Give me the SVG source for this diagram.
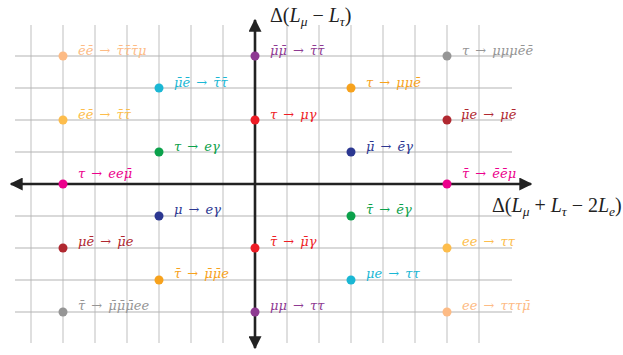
<svg xmlns="http://www.w3.org/2000/svg" width="623" height="355" viewBox="0 0 623 355">
<style>
.vg{stroke:#d2d2d2;stroke-width:1.4;fill:none}
.hg{stroke:#b4b4b4;stroke-width:1.2;fill:none}
.ax{stroke:#222;stroke-width:2.6;fill:none}
.lab{font-family:"DejaVu Serif","Liberation Serif",serif;font-style:italic;font-size:13px;word-spacing:2px}
.axl{font-family:"Liberation Serif","DejaVu Serif",serif;font-size:20px;fill:#222}
.it{font-style:italic}
.sub{font-size:13.5px;font-style:italic}
.peach{fill:#fdbb85}.purple{fill:#8e3a92}.gray{fill:#959595}.cyan{fill:#1ab7d4}
.orange{fill:#f7a21c}.yellow{fill:#fdbd4c}.red{fill:#ee1c25}.dred{fill:#b02830}
.green{fill:#0ba14b}.blue{fill:#2b3791}.mag{fill:#ec008c}
</style>
<defs>
<marker id="ah" viewBox="0 0 10 10" refX="9" refY="5" markerWidth="5" markerHeight="5" markerUnits="strokeWidth" orient="auto">
<path d="M0,0 L10,5 L0,10 Z" fill="#222"/>
</marker>
</defs>
<g id="grid">
<path class="vg" d="M31,25V343M63,25V343M95,25V343M127,25V343M159,25V343M191,25V343M223,25V343M255,25V343M287,25V343M319,25V343M351,25V343M383,25V343M415,25V343M447,25V343M479,25V343"/>
<path class="hg" d="M15,56H512M15,88H512M15,120H512M15,152H512M15,216H512M15,248H512M15,280H512M15,312H512"/>
</g>
<g id="connectors">
<line class="ax" x1="255" y1="184" x2="531" y2="184" marker-end="url(#ah)"/>
<line class="ax" x1="255" y1="184" x2="11" y2="184" marker-end="url(#ah)"/>
<line class="ax" x1="255" y1="184" x2="255" y2="20" marker-end="url(#ah)"/>
<line class="ax" x1="255" y1="184" x2="255" y2="348" marker-end="url(#ah)"/>
</g>
<g id="axis-labels">
<text class="axl" x="270" y="22">Δ(<tspan class="it">L</tspan><tspan class="sub" dy="4">μ</tspan><tspan dy="-4"> − </tspan><tspan class="it">L</tspan><tspan class="sub" dy="4">τ</tspan><tspan dy="-4">)</tspan></text>
<text class="axl" x="492" y="212">Δ(<tspan class="it">L</tspan><tspan class="sub" dy="4">μ</tspan><tspan dy="-4"> + </tspan><tspan class="it">L</tspan><tspan class="sub" dy="4">τ</tspan><tspan dy="-4"> − 2</tspan><tspan class="it">L</tspan><tspan class="sub" dy="4">e</tspan><tspan dy="-4">)</tspan></text>
</g>
<g id="n1"><circle class="peach" cx="63" cy="56" r="4.5"/><text class="lab peach" x="78" y="55">e&#x304;e&#x304; → τ&#x304;τ&#x304;τ&#x304;μ</text></g>
<g id="n2"><circle class="purple" cx="255" cy="56" r="4.5"/><text class="lab purple" x="270" y="55">μ&#x304;μ&#x304; → τ&#x304;τ&#x304;</text></g>
<g id="n3"><circle class="gray" cx="447" cy="56" r="4.5"/><text class="lab gray" x="462" y="55">τ → μμμe&#x304;e&#x304;</text></g>
<g id="n4"><circle class="cyan" cx="159" cy="88" r="4.5"/><text class="lab cyan" x="174" y="87">μ&#x304;e&#x304; → τ&#x304;τ&#x304;</text></g>
<g id="n5"><circle class="orange" cx="351" cy="88" r="4.5"/><text class="lab orange" x="366" y="87">τ → μμe&#x304;</text></g>
<g id="n6"><circle class="yellow" cx="63" cy="120" r="4.5"/><text class="lab yellow" x="78" y="119">e&#x304;e&#x304; → τ&#x304;τ&#x304;</text></g>
<g id="n7"><circle class="red" cx="255" cy="120" r="4.5"/><text class="lab red" x="270" y="119">τ → μγ</text></g>
<g id="n8"><circle class="dred" cx="447" cy="120" r="4.5"/><text class="lab dred" x="461" y="119">μ&#x304;e → μe&#x304;</text></g>
<g id="n9"><circle class="green" cx="159" cy="152" r="4.5"/><text class="lab green" x="174" y="151">τ → eγ</text></g>
<g id="n10"><circle class="blue" cx="351" cy="152" r="4.5"/><text class="lab blue" x="366" y="151">μ&#x304; → e&#x304;γ</text></g>
<g id="n11"><circle class="mag" cx="63" cy="184" r="4.5"/><text class="lab mag" x="78" y="178">τ → eeμ&#x304;</text></g>
<g id="n12"><circle class="mag" cx="447" cy="184" r="4.5"/><text class="lab mag" x="462" y="178">τ&#x304; → e&#x304;e&#x304;μ</text></g>
<g id="n13"><circle class="blue" cx="159" cy="216" r="4.5"/><text class="lab blue" x="174" y="214">μ → eγ</text></g>
<g id="n14"><circle class="green" cx="351" cy="216" r="4.5"/><text class="lab green" x="366" y="214">τ&#x304; → e&#x304;γ</text></g>
<g id="n15"><circle class="dred" cx="63" cy="248" r="4.5"/><text class="lab dred" x="78" y="246">μe&#x304; → μ&#x304;e</text></g>
<g id="n16"><circle class="red" cx="255" cy="248" r="4.5"/><text class="lab red" x="270" y="246">τ&#x304; → μ&#x304;γ</text></g>
<g id="n17"><circle class="yellow" cx="447" cy="248" r="4.5"/><text class="lab yellow" x="462" y="246">ee → ττ</text></g>
<g id="n18"><circle class="orange" cx="159" cy="280" r="4.5"/><text class="lab orange" x="174" y="278">τ&#x304; → μ&#x304;μ&#x304;e</text></g>
<g id="n19"><circle class="cyan" cx="351" cy="280" r="4.5"/><text class="lab cyan" x="366" y="278">μe → ττ</text></g>
<g id="n20"><circle class="gray" cx="63" cy="312" r="4.5"/><text class="lab gray" x="78" y="310">τ&#x304; → μ&#x304;μ&#x304;μ&#x304;ee</text></g>
<g id="n21"><circle class="purple" cx="255" cy="312" r="4.5"/><text class="lab purple" x="270" y="310">μμ → ττ</text></g>
<g id="n22"><circle class="peach" cx="447" cy="312" r="4.5"/><text class="lab peach" x="462" y="310">ee → τττμ&#x304;</text></g>
</svg>
